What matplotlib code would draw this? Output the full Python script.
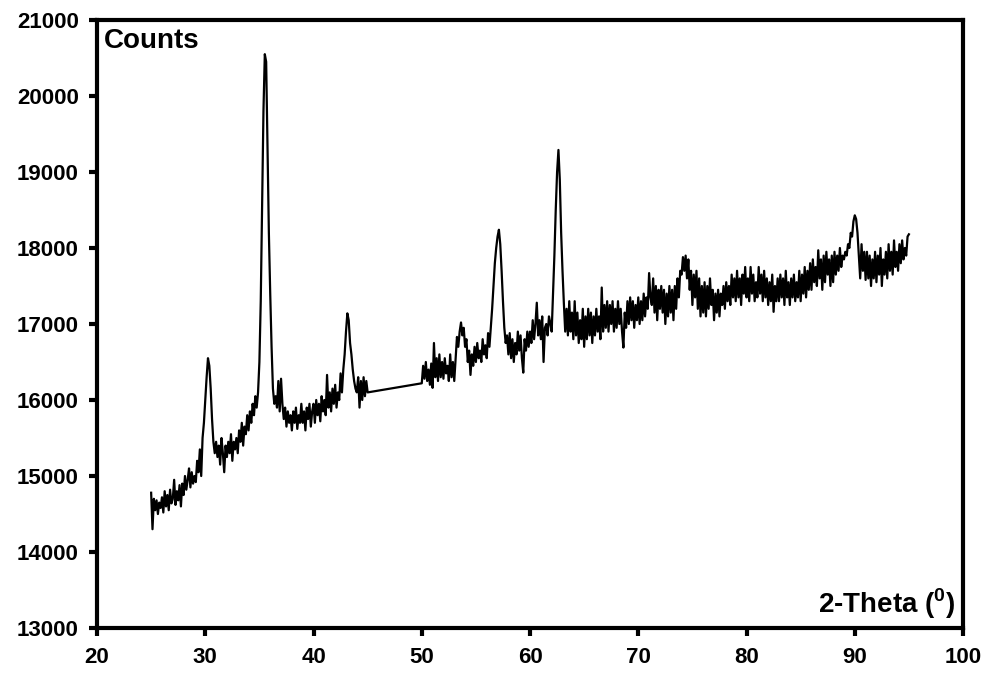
import numpy as np
from matplotlib import pyplot as plt

plt.rcParams['font.family'] = ['Liberation Sans', 'DejaVu Sans']
plt.rcParams['mathtext.fontset'] = 'custom'
plt.rcParams['mathtext.rm'] = 'Liberation Sans'
plt.rcParams['mathtext.bf'] = 'Liberation Sans:bold'

# first scan: 25 - 45 deg, step 0.125
theta_start_a, theta_end_a = 25.0, 45.0
counts_a = [
    14780, 14300, 14700, 14550, 14680, 14500, 14650, 14580,
    14720, 14520, 14800, 14600, 14750, 14550, 14820, 14640,
    14700, 14950, 14620, 14800, 14680, 14880, 14600, 14900,
    14750, 15000, 14820, 14950, 15100, 14850, 15050, 14900,
    15000, 14920, 15200, 15050, 15350, 15000, 15500, 15700,
    16000, 16300, 16550, 16450, 16150, 15750, 15450, 15300,
    15450, 15250, 15400, 15150, 15500, 15300, 15050, 15400,
    15250, 15450, 15300, 15550, 15200, 15450, 15350, 15500,
    15300, 15600, 15450, 15700, 15400, 15650, 15550, 15800,
    15600, 15850, 15700, 15950, 15800, 16050, 15900, 16100,
    16500, 17300, 18600, 19800, 20550, 20450, 19300, 18200,
    17400, 16700, 16150, 15950, 16050, 15900, 16250, 15850,
    16280, 15950, 15750, 15900, 15650, 15850, 15700, 15800,
    15600, 15850, 15700, 15900, 15620, 15800, 15700, 15950,
    15700, 15850, 15600, 15900, 15750, 15950, 15650, 15850,
    15950, 15700, 16000, 15800, 15950, 15720, 16050, 15850,
    16000, 15800, 16330, 15900, 16100, 15850, 16150, 15950,
    16200, 15900, 16100, 16000, 16350, 16100, 16400, 16600,
    16900, 17140, 17050, 16750, 16600, 16400, 16250, 16150,
    16100, 16300, 15900, 16250, 16000, 16300, 16050, 16250,
    16100,
]

# second scan: 50 - 95 deg, step 0.125
theta_start_b, theta_end_b = 50.0, 95.0
counts_b = [
    16220, 16450, 16280, 16500, 16250, 16400, 16200, 16480,
    16160, 16750, 16300, 16550, 16250, 16600, 16300, 16500,
    16280, 16550, 16350, 16450, 16250, 16600, 16300, 16500,
    16250, 16550, 16830, 16700, 16900, 17020, 16850, 16950,
    16700, 16800, 16500, 16650, 16330, 16600, 16450, 16700,
    16500, 16750, 16550, 16650, 16500, 16800, 16600, 16720,
    16550, 16880, 16700, 16950, 17200, 17500, 17800, 18000,
    18150, 18240, 18050, 17700, 17300, 16950, 16750, 16850,
    16600, 16880, 16550, 16800, 16500, 16750, 16600, 16900,
    16650, 16850, 16550, 16360, 16800, 16650, 16900, 16700,
    16900, 16750, 17050, 16800, 17000, 17280, 16850, 17050,
    16800, 17100, 16500, 16950, 17000, 16850, 17100, 17010,
    16900, 17400, 17900, 18500, 19000, 19290, 18900, 18200,
    17700, 17275, 16900, 17200, 16850, 17300, 16900, 17150,
    16800, 17300, 16850, 17150, 16750, 17050, 16800, 17200,
    16700, 17100, 16800, 17200, 16850, 17150, 16750, 17100,
    16850, 17200, 16900, 17100, 16800, 17480, 16900, 17250,
    16950, 17300, 16900, 17250, 17000, 17300, 16900, 17200,
    16950, 17300, 17000, 17200, 16900, 16690, 17150, 16950,
    17300, 17000, 17350, 17050, 17300, 16950, 17250, 17050,
    17350, 17000, 17300, 17050, 17400, 17100, 17350, 17200,
    17670, 17350, 17250, 17600, 17150, 17500, 17050, 17450,
    17200, 17500, 17150, 17450, 17000, 17400, 17100, 17500,
    17150, 17450, 17050, 17500, 17200, 17600, 17350, 17700,
    17650, 17880, 17700, 17900, 17600, 17850, 17450, 17700,
    17250, 17650, 17350, 17700, 17200, 17600, 17100, 17500,
    17150, 17550, 17100, 17500, 17200, 17600, 17250, 17450,
    17050, 17400, 17150, 17450, 17100, 17400, 17250, 17500,
    17200, 17550, 17300, 17500, 17250, 17650, 17350, 17600,
    17300, 17700, 17350, 17600, 17250, 17650, 17400, 17750,
    17350, 17600, 17300, 17750, 17400, 17650, 17300, 17550,
    17350, 17750, 17400, 17650, 17300, 17700, 17350, 17600,
    17250, 17550, 17300, 17650, 17160, 17500, 17300, 17600,
    17300, 17650, 17350, 17600, 17250, 17700, 17350, 17550,
    17250, 17600, 17350, 17650, 17300, 17550, 17350, 17700,
    17300, 17650, 17400, 17750, 17350, 17700, 17450, 17800,
    17450, 17850, 17550, 17750, 17500, 17970, 17600, 17850,
    17450, 17900, 17550, 17950, 17650, 17850, 17500, 17900,
    17550, 17950, 17650, 17900, 17700, 18000, 17750, 17900,
    17850, 17950, 17900, 18050, 18000, 18200, 18150, 18350,
    18430, 18380, 18200, 17900, 17600, 18050, 17700, 17950,
    17580, 17950, 17600, 17900, 17500, 17850, 17600, 17950,
    17550, 17900, 17650, 18000, 17500, 17850, 17650, 17950,
    17600, 18050, 17700, 17950, 17650, 18100, 17750, 17950,
    17700, 18050, 17800, 18100, 17850, 18000, 17900, 18150,
    18180,
]

x_ticks = [20, 30, 40, 50, 60, 70, 80, 90, 100]
y_ticks = [13000, 14000, 15000, 16000, 17000, 18000, 19000, 20000, 21000]

theta = np.concatenate([np.linspace(theta_start_a, theta_end_a, len(counts_a)),
                        np.linspace(theta_start_b, theta_end_b, len(counts_b))])
counts = np.array(counts_a + counts_b)

fig = plt.figure(figsize=(9.92, 6.75), dpi=100)
ax = fig.add_axes([0.0978, 0.0696, 0.873, 0.9008])
ax.plot(theta, counts, color='black', linewidth=1.6)

ax.set_xlim(20, 100)
ax.set_ylim(13000, 21000)
ax.set_xticks(x_ticks)
ax.set_yticks(y_ticks)
for s in ax.spines.values():
    s.set_linewidth(3)
ax.tick_params(direction='out', length=6, width=3, labelsize=16)
ax.tick_params(axis='x', pad=8)
ax.tick_params(axis='y', pad=7)
for lab in ax.get_xticklabels() + ax.get_yticklabels():
    lab.set_fontweight('bold')

ax.text(0.008, 0.986, 'Counts', transform=ax.transAxes, fontsize=20,
        fontweight='bold', ha='left', va='top')
ax.text(0.991, 0.025, r'2-Theta ($^{\mathbf{0}}$)', transform=ax.transAxes,
        fontsize=20, fontweight='bold', ha='right', va='baseline')

fig.savefig('out.png', dpi=100)
